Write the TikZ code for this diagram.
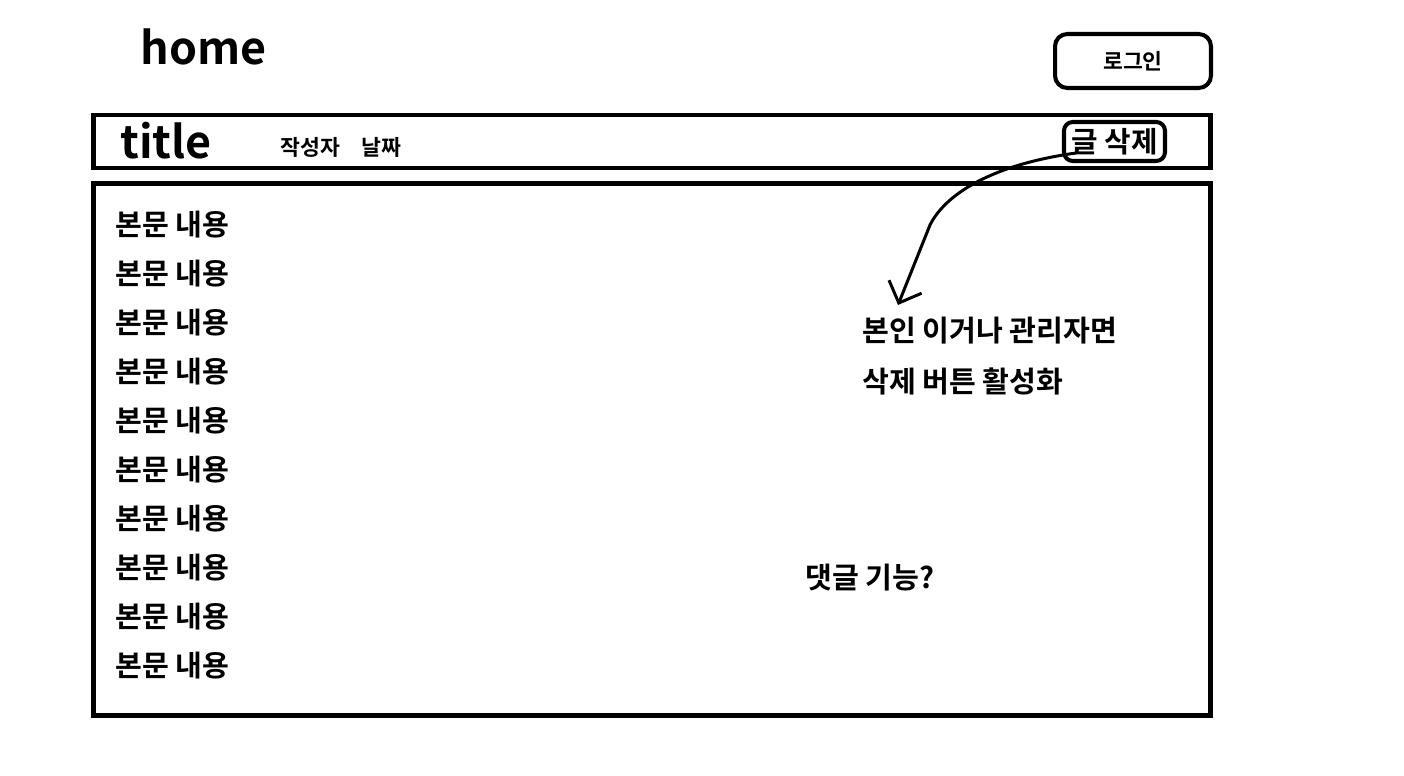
\documentclass[tikz,border=0pt]{standalone}
\usepackage{fontspec}
\setmainfont{Noto Sans CJK KR}[BoldFont={* Bold}]
\usepackage{tikz}
\usetikzlibrary{shapes,arrows.meta}
\tikzstyle{frame} = [rectangle, draw, line width=2.8pt, inner sep=0pt]
\tikzstyle{button} = [rectangle, draw, line width=2.3pt, rounded corners=7pt,
    inner sep=0pt, font=\bfseries\fontsize{12.3pt}{14pt}\selectfont]
\tikzstyle{bigtext} = [inner sep=0pt, font=\bfseries\fontsize{25.5pt}{30pt}\selectfont]
\tikzstyle{bodytext} = [inner sep=0pt, font=\bfseries\fontsize{16.6pt}{19pt}\selectfont]
\tikzstyle{smalltext} = [inner sep=0pt, font=\bfseries\fontsize{12.3pt}{14pt}\selectfont]
\tikzstyle{line} = [draw, line width=1.7pt, -{Straight Barb[length=10pt, width=20pt]}]

\begin{document}
\begin{tikzpicture}[x=0.02cm, y=-0.02cm, node distance=0.98cm]
    \useasboundingbox (0,0) rectangle (1404,776);
    % Place frames
    \node [frame, minimum width=22.36cm, minimum height=1.06cm] (titlebar) at (652,141.5) {};
    \node [frame, minimum width=22.36cm, minimum height=10.66cm] (content) at (652,449.5) {};

    % Header
    \node [bigtext, anchor=base west] (home) at (140,65) {home};
    \node [button, minimum width=3.12cm, minimum height=1.08cm] (login) at (1133,61) {로그인};
    \node [bigtext, anchor=base west] (title) at (120,159) {title};
    \node [smalltext, anchor=west] (meta) at (280,147) {작성자\quad 날짜};
    \node [button, rounded corners=5pt, font=\bfseries\fontsize{16.4pt}{19pt}\selectfont,
        minimum width=2.02cm, minimum height=0.78cm] (del) at (1114.5,141.5) {글 삭제};

    % Body lines
    \node [bodytext, anchor=west] (b1) at (115,225) {본문 내용};
    \node [bodytext, below of=b1] (b2) {본문 내용};
    \node [bodytext, below of=b2] (b3) {본문 내용};
    \node [bodytext, below of=b3] (b4) {본문 내용};
    \node [bodytext, below of=b4] (b5) {본문 내용};
    \node [bodytext, below of=b5] (b6) {본문 내용};
    \node [bodytext, below of=b6] (b7) {본문 내용};
    \node [bodytext, below of=b7] (b8) {본문 내용};
    \node [bodytext, below of=b8] (b9) {본문 내용};
    \node [bodytext, below of=b9] (b10) {본문 내용};

    % Notes
    \node [bodytext, anchor=west] (note1) at (862,331) {본인 이거나 관리자면};
    \node [bodytext, anchor=west] (note2) at (862,381) {삭제 버튼 활성화};
    \node [bodytext, anchor=west] (comment) at (805,578) {댓글 기능?};

    % Draw arrow
    \coordinate (tip) at (898,305);
    \path [line] ([shift={(14,-10)}]del.south west) .. controls (990,165) and (945,195) .. (930,225) -- (tip);

\end{tikzpicture}
\end{document}
